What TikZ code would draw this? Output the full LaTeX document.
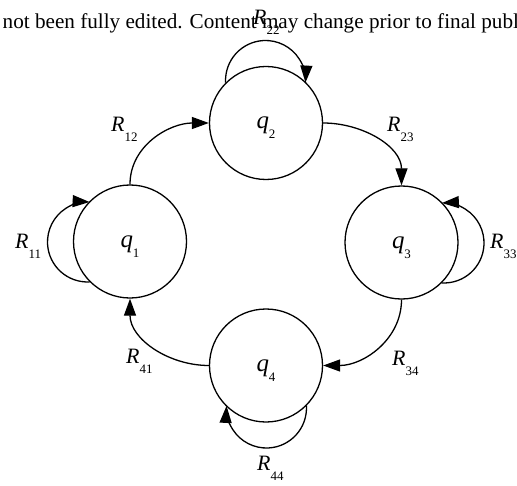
\documentclass[tikz,border=0pt]{standalone}
\usepackage{fontspec}
\setmainfont{Liberation Serif}
\usetikzlibrary{arrows.meta}
\newcommand{\rlab}[1]{{\fontsize{22}{22}\selectfont\itshape R}\raisebox{-10bp}{\fontsize{13}{13}\selectfont #1}}
\newcommand{\qlab}[1]{\raisebox{-6bp}[0pt][0pt]{{\fontsize{25}{25}\selectfont\itshape q}\raisebox{-10bp}{\fontsize{13}{13}\selectfont #1}}}
\begin{document}
\begin{tikzpicture}[x=1bp,y=1bp,
  state/.style={circle, draw, line width=1.3bp, minimum size=113bp, inner sep=0pt},
  edge/.style={line width=1.3bp, -{Triangle[length=17bp,width=12bp]}},
  lab/.style={anchor=base west, inner sep=0pt}]
\useasboundingbox (0,0) rectangle (517,-486);
\node[lab, font=\fontsize{21.25}{21.25}\selectfont] (hdr) at (2.5,-29) {not been fully edited. Content may change prior to final publ};
\node[state] (q1) at (130,-241.5) {\qlab{1}};
\node[state] (q2) at (266,-123) {\qlab{2}};
\node[state] (q3) at (401.5,-242.5) {\qlab{3}};
\node[state] (q4) at (266,-365.5) {\qlab{4}};
\draw[edge] (q1.north) to[out=90,in=180] (q2.west);
\draw[edge] (q2.east) to[out=0,in=90] (q3.north);
\draw[edge] (q3.south) to[out=-90,in=0] (q4.east);
\draw[edge] (q4.west) to[out=180,in=-90] (q1.south);
\draw[edge] (q2.135) arc[start angle=183,end angle=-3,radius=40];
\draw[edge] (q1.225) arc[start angle=273,end angle=87,radius=40];
\draw[edge] (q3.-45) arc[start angle=-93,end angle=93,radius=40];
\draw[edge] (q4.-45) arc[start angle=3,end angle=-183,radius=40];
\node[lab] (r12) at (111,-132) {\rlab{12}};
\node[lab] (r23) at (387,-132) {\rlab{23}};
\node[lab] (r34) at (392,-365) {\rlab{34}};
\node[lab] (r41) at (126,-363) {\rlab{41}};
\node[lab] (r11) at (15,-248) {\rlab{11}};
\node[lab] (r33) at (490,-248) {\rlab{33}};
\node[lab] (r44) at (257,-470) {\rlab{44}};
\node[lab] (r22) at (253,-25) {\rlab{22}};
\end{tikzpicture}
\end{document}
